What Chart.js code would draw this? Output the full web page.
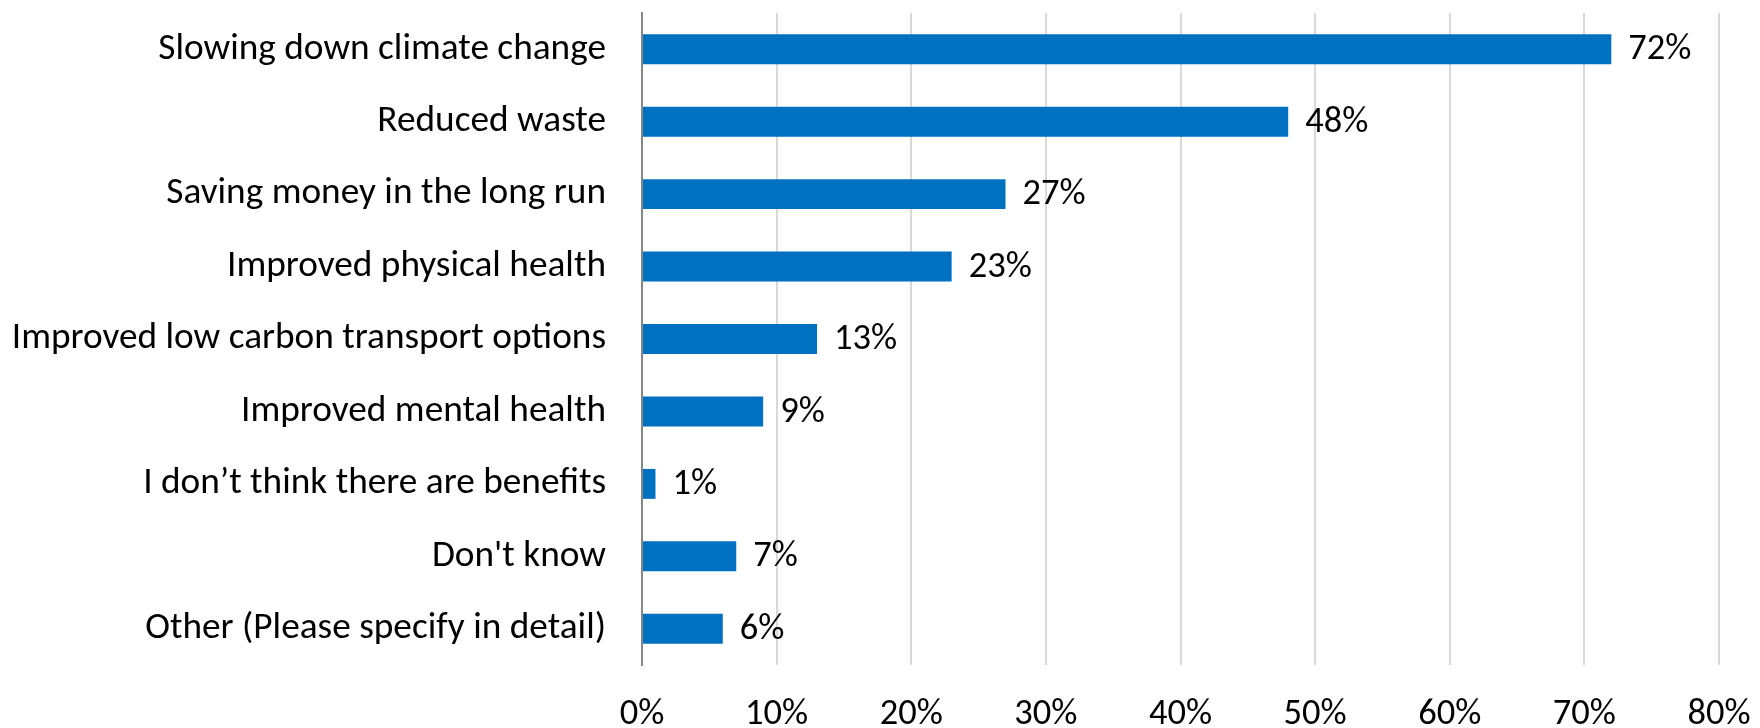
<!DOCTYPE html>
<html>
<head>
<meta charset="utf-8">
<script src="https://cdn.jsdelivr.net/npm/chart.js@4/dist/chart.umd.min.js"></script>
<style>
  html, body { margin: 0; padding: 0; background: #ffffff; }
  #wrap { width: 1760px; height: 728px; }
</style>
</head>
<body>
<div id="wrap"><canvas id="benefitsChart" width="1760" height="728"></canvas></div>
<script>
// Survey: perceived benefits (share of respondents)
const categories = [
    'Slowing down climate change',
    'Reduced waste',
    'Saving money in the long run',
    'Improved physical health',
    'Improved low carbon transport options',
    'Improved mental health',
    'I don\u2019t think there are benefits',
    "Don't know",
    'Other (Please specify in detail)'
];
const shares = [72, 48, 27, 23, 13, 9, 1, 7, 6];
const xTicks = [0, 10, 20, 30, 40, 50, 60, 70, 80];

const FONT = 'Carlito, "Open Sans", sans-serif';
const BAR_BLUE = '#0070C0';

// Value labels at bar ends
const barLabels = {
    id: 'barLabels',
    afterDatasetsDraw(chart) {
        const ctx = chart.ctx;
        const meta = chart.getDatasetMeta(0);
        ctx.save();
        ctx.font = '36.5px ' + FONT;
        ctx.fillStyle = '#000000';
        ctx.textAlign = 'left';
        ctx.textBaseline = 'middle';
        meta.data.forEach((bar, i) => {
            ctx.fillText(shares[i] + '%', bar.x + 17, bar.y + 1);
        });
        ctx.restore();
    }
};

new Chart(document.getElementById('benefitsChart'), {
    type: 'bar',
    data: {
        labels: categories,
        datasets: [{
            data: shares,
            backgroundColor: BAR_BLUE,
            borderWidth: 0,
            categoryPercentage: 1.0,
            barPercentage: 0.413
        }]
    },
    options: {
        indexAxis: 'y',
        responsive: false,
        animation: false,
        layout: { padding: { top: 13, right: 41, left: 0, bottom: 0 } },
        plugins: {
            legend: { display: false },
            tooltip: { enabled: false }
        },
        scales: {
            x: {
                min: 0,
                max: 80,
                afterBuildTicks: scale => {
                    scale.ticks = xTicks.map(v => ({ value: v }));
                },
                afterFit: scale => {
                    scale.height = 63;
                    scale.paddingRight = 0;
                },
                border: { display: false },
                grid: {
                    color: '#d9d9d9',
                    lineWidth: 2,
                    drawTicks: true,
                    tickColor: 'rgba(0,0,0,0)',
                    tickLength: 25
                },
                ticks: {
                    padding: 3,
                    color: '#000000',
                    font: { family: FONT, size: 36.5 },
                    callback: v => v + '%'
                }
            },
            y: {
                afterFit: scale => {
                    scale.width = 642;
                    scale.paddingTop = 0;
                    scale.paddingBottom = 0;
                },
                border: { display: true, color: '#868686', width: 2 },
                grid: {
                    display: true,
                    drawOnChartArea: false,
                    drawTicks: true,
                    tickColor: 'rgba(0,0,0,0)',
                    tickLength: 33
                },
                ticks: {
                    padding: 3,
                    color: '#000000',
                    font: { family: FONT, size: 37.3 }
                }
            }
        }
    },
    plugins: [barLabels]
});
</script>
</body>
</html>
